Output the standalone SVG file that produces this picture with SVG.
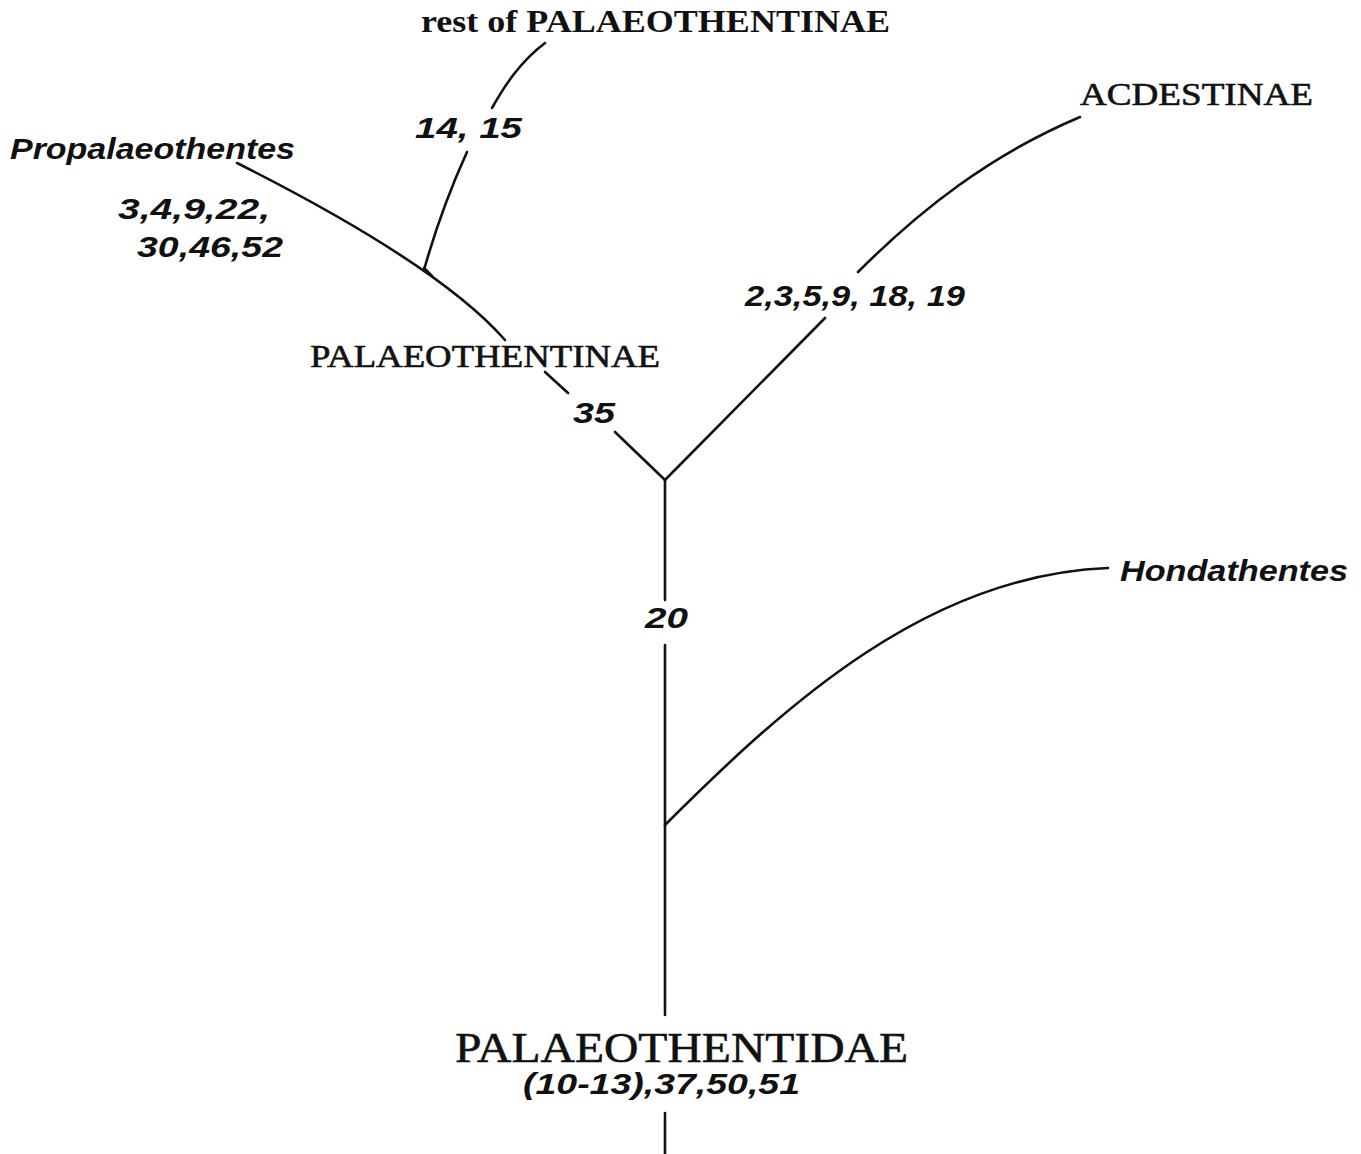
<svg xmlns="http://www.w3.org/2000/svg" width="1361" height="1154" viewBox="0 0 1361 1154">
<style>
.ser{font-family:"Liberation Serif","Times New Roman",serif;fill:#111;stroke:#111;stroke-width:0.6;}
.bser{font-family:"Liberation Serif","Times New Roman",serif;fill:#111;font-weight:bold;}
.it{font-family:"Liberation Sans",Arial,sans-serif;font-style:italic;font-weight:bold;fill:#111;font-size:29px;}
.br{fill:none;stroke:#111;stroke-width:2.6;stroke-linecap:round;}
</style>
<rect width="1361" height="1154" fill="#fff"/>
<g id="connectors">
<path class="br" d="M665,480 V600 M665,645 V1015 M665,1113 V1154"/>
<path class="br" d="M665,480 L615,432 M568,393 L545,372"/>
<path class="br" d="M505,340 C470,300 400,245 237,163"/>
<path class="br" d="M424,270 C438,220 452,185 467,152 M492,108 C505,85 520,62 545,43"/>
<path class="br" d="M424,268 L432,276"/>
<path class="br" d="M665,480 L825,318 M858,272 C920,210 990,155 1080,117"/>
<path class="br" d="M665,825 C790,700 930,575 1108,568"/>
</g>
<g id="rest"><text class="bser" x="421" y="32" font-size="31" textLength="469" lengthAdjust="spacingAndGlyphs">rest of PALAEOTHENTINAE</text>
<text class="it" x="415" y="138" textLength="107" lengthAdjust="spacingAndGlyphs">14, 15</text></g>
<g id="propalaeothentes"><text class="it" x="10" y="159" textLength="285" lengthAdjust="spacingAndGlyphs">Propalaeothentes</text>
<text class="it" x="118" y="219" textLength="152" lengthAdjust="spacingAndGlyphs">3,4,9,22,</text>
<text class="it" x="137" y="257" textLength="146" lengthAdjust="spacingAndGlyphs">30,46,52</text></g>
<g id="palaeothentinae"><text class="ser" x="310" y="367" font-size="32" textLength="350" lengthAdjust="spacingAndGlyphs">PALAEOTHENTINAE</text>
<text class="it" x="573" y="423" textLength="42" lengthAdjust="spacingAndGlyphs">35</text></g>
<g id="acdestinae"><text class="ser" x="1080" y="105" font-size="31" textLength="233" lengthAdjust="spacingAndGlyphs">ACDESTINAE</text>
<text class="it" x="745" y="306" textLength="220" lengthAdjust="spacingAndGlyphs">2,3,5,9, 18, 19</text></g>
<g id="hondathentes"><text class="it" x="1120" y="581" textLength="228" lengthAdjust="spacingAndGlyphs">Hondathentes</text></g>
<g id="n20"><text class="it" x="645" y="628" textLength="43" lengthAdjust="spacingAndGlyphs">20</text></g>
<g id="palaeothentidae"><text class="ser" x="455" y="1062" font-size="43" textLength="453" lengthAdjust="spacingAndGlyphs" stroke-width="0.9">PALAEOTHENTIDAE</text>
<text class="it" x="523" y="1094" textLength="277" lengthAdjust="spacingAndGlyphs">(10-13),37,50,51</text></g>
</svg>
